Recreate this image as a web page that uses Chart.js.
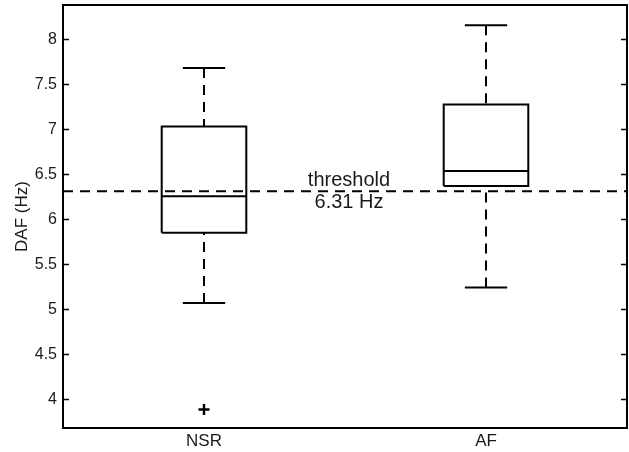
<!DOCTYPE html>
<html>
<head>
<meta charset="utf-8">
<script src="https://cdn.jsdelivr.net/npm/chart.js@4/dist/chart.umd.min.js"></script>
<style>
  html, body { margin: 0; padding: 0; background: #ffffff; }
  #wrap { width: 629px; height: 452px; }
</style>
</head>
<body>
<div id="wrap"><canvas id="c" width="629" height="452"></canvas></div>
<script>
// ---- data ----
const categories   = ['NSR', 'AF'];
const whiskerLow   = [5.07, 5.24];
const quartile1    = [5.85, 6.37];
const medians      = [6.255, 6.535];
const quartile3    = [7.03, 7.275];
const whiskerHigh  = [7.68, 8.155];
const outliers     = [[3.885], []];
const thresholdValue = 6.31;
const thresholdLabel = ['threshold', '6.31 Hz'];
const yTickValues  = [4, 4.5, 5, 5.5, 6, 6.5, 7, 7.5, 8];
const yAxisTitle   = 'DAF (Hz)';

// ---- style constants ----
const FONT = 'Liberation Sans, Arial, Helvetica, sans-serif';
const INK = '#000000';
const TEXT = '#1a1a1a';
const BOX_HALF = 0.15;
const CAP_HALF = 0.075;
const DASH = [10, 7];

const datasets = [];
function seg(points, dashed) {
  datasets.push({
    type: 'scatter', showLine: true, data: points,
    borderColor: INK, borderWidth: 2, pointRadius: 0, pointHoverRadius: 0,
    borderDash: dashed ? DASH : [], fill: false, tension: 0
  });
}
categories.forEach((c, i) => {
  const x = i + 1;
  seg([{x: x, y: whiskerHigh[i]}, {x: x, y: quartile3[i]}], true);
  seg([{x: x, y: whiskerLow[i]}, {x: x, y: quartile1[i]}], true);
  seg([{x: x - CAP_HALF, y: whiskerHigh[i]}, {x: x + CAP_HALF, y: whiskerHigh[i]}], false);
  seg([{x: x - CAP_HALF, y: whiskerLow[i]}, {x: x + CAP_HALF, y: whiskerLow[i]}], false);
  seg([
    {x: x - BOX_HALF, y: quartile1[i]}, {x: x + BOX_HALF, y: quartile1[i]},
    {x: x + BOX_HALF, y: quartile3[i]}, {x: x - BOX_HALF, y: quartile3[i]},
    {x: x - BOX_HALF, y: quartile1[i]}
  ], false);
  seg([{x: x - BOX_HALF, y: medians[i]}, {x: x + BOX_HALF, y: medians[i]}], false);
  if (outliers[i].length) {
    datasets.push({
      type: 'scatter', data: outliers[i].map(v => ({x: x, y: v})),
      pointStyle: 'cross', pointRadius: 5.5, pointBorderWidth: 2.4,
      borderColor: INK, backgroundColor: INK, showLine: false
    });
  }
});
// threshold line
seg([{x: 0.5, y: thresholdValue}, {x: 2.5, y: thresholdValue}], true);

const framePlugin = {
  id: 'frame',
  afterDatasetsDraw(chart) {
    const {ctx, chartArea: a, scales} = chart;
    ctx.save();
    ctx.strokeStyle = INK;
    ctx.lineWidth = 2;
    ctx.setLineDash([]);
    ctx.strokeRect(a.left, a.top, a.right - a.left, a.bottom - a.top);
    ctx.lineWidth = 1.5;
    yTickValues.forEach(v => {
      const y = Math.round(scales.y.getPixelForValue(v)) + 0.5;
      ctx.beginPath();
      ctx.moveTo(a.left, y); ctx.lineTo(a.left + 6, y);
      ctx.moveTo(a.right, y); ctx.lineTo(a.right - 6, y);
      ctx.stroke();
    });
    // threshold annotation
    const tx = scales.x.getPixelForValue(1.5) + 4;
    const ty = scales.y.getPixelForValue(thresholdValue);
    ctx.fillStyle = TEXT;
    ctx.font = '20px ' + FONT;
    ctx.textAlign = 'center';
    ctx.textBaseline = 'alphabetic';
    ctx.fillText(thresholdLabel[0], tx, ty - 5);
    ctx.fillText(thresholdLabel[1], tx, ty + 17);
    ctx.restore();
  }
};

function noPad(s) { s.paddingTop = 0; s.paddingBottom = 0; s.paddingLeft = 0; s.paddingRight = 0; }

new Chart(document.getElementById('c'), {
  type: 'scatter',
  data: { datasets },
  options: {
    responsive: false,
    animation: false,
    events: [],
    layout: { autoPadding: false, padding: { top: 5, right: 2, left: 0, bottom: 0 } },
    plugins: { legend: { display: false }, tooltip: { enabled: false } },
    scales: {
      x: {
        type: 'linear', min: 0.5, max: 2.5,
        grid: { display: false, drawTicks: false },
        border: { display: false },
        afterBuildTicks: s => { s.ticks = categories.map((c, i) => ({value: i + 1})); },
        afterFit: s => { s.height = 24; noPad(s); },
        ticks: {
          padding: 3, color: TEXT, maxRotation: 0, autoSkip: false,
          font: { family: FONT, size: 17 },
          callback: (v) => categories[Math.round(v) - 1] ?? ''
        }
      },
      y: {
        type: 'linear', min: 3.68, max: 8.38,
        grid: { display: false, drawTicks: false },
        border: { display: false },
        afterBuildTicks: s => { s.ticks = yTickValues.map(v => ({value: v})); },
        afterFit: s => { s.width = 63; noPad(s); },
        ticks: {
          padding: 6, color: TEXT, autoSkip: false,
          font: { family: FONT, size: 16 },
          callback: v => String(v)
        },
        title: {
          display: true, text: yAxisTitle, color: TEXT,
          font: { family: FONT, size: 17 }, padding: { top: 12, bottom: 0 }
        }
      }
    }
  },
  plugins: [framePlugin]
});
</script>
</body>
</html>
